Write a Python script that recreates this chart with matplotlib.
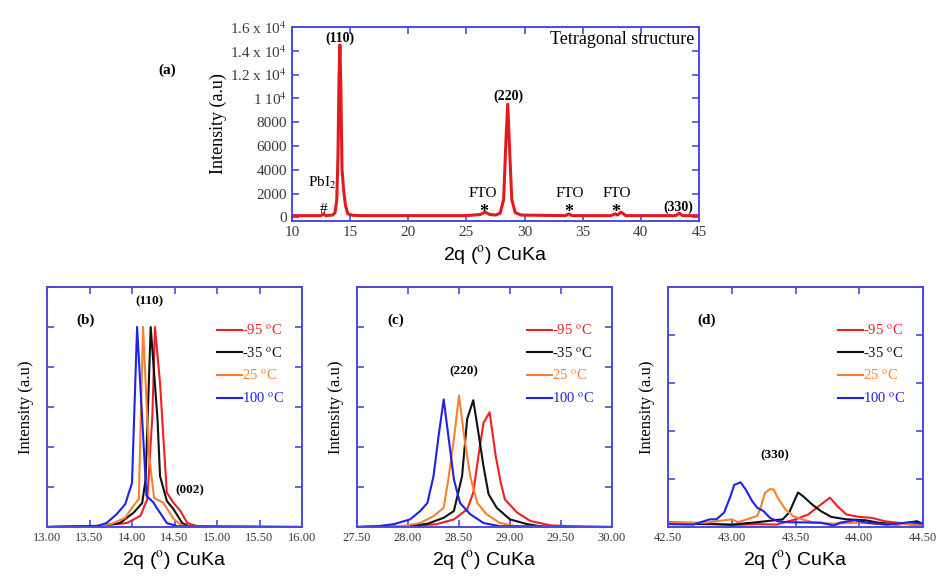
import numpy as np
import matplotlib
matplotlib.use("Agg")
import matplotlib.pyplot as plt

plt.rcParams['font.family'] = ['Liberation Serif', 'DejaVu Serif']
plt.rcParams['mathtext.fontset'] = 'stix'

# ---- panel (a): full pattern ----
a_x = [10, 12.5, 12.7, 12.9, 13.5, 13.7, 13.85, 13.95, 14.05, 14.12, 14.2, 14.3, 14.45, 14.6, 14.8, 15.2, 16,
       25, 26.2, 26.6, 27.0, 27.5, 27.9, 28.2, 28.4, 28.55, 28.7, 28.9, 29.2, 29.7,
       33.5, 33.8, 34.1, 37.4, 37.8, 38.0, 38.3, 38.7, 43.0, 43.3, 43.6, 45]
a_y = [150, 150, 300, 150, 200, 400, 1500, 5000, 12000, 14500, 11000, 4000, 2200, 1000, 300, 180, 150,
       150, 250, 450, 250, 200, 350, 1500, 6500, 9500, 6000, 1500, 400, 200,
       150, 300, 150, 150, 300, 200, 450, 150, 150, 350, 150, 150]
a_yticks = [0, 2000, 4000, 6000, 8000, 10000, 12000, 14000, 16000]
a_yticklabels = ['0', '2000', '4000', '6000', '8000', r'1 10$^4$', r'1.2 x 10$^4$',
                 r'1.4 x 10$^4$', r'1.6 x 10$^4$']

# ---- panel (b): (110) peak ----
b_red_x = [13.0, 13.6, 13.94, 14.10, 14.18, 14.24, 14.27, 14.33, 14.37, 14.41, 14.49, 14.57, 14.65, 14.8, 16.0]
b_red_y = [0.0, 0.02, 0.1, 0.28, 0.7, 2.8, 5.0, 3.6, 2.2, 0.86, 0.6, 0.4, 0.1, 0.0, 0.0]
b_blk_x = [13.0, 13.6, 13.86, 14.02, 14.12, 14.16, 14.22, 14.30, 14.33, 14.41, 14.49, 14.59, 14.69, 16.0]
b_blk_y = [0.0, 0.02, 0.1, 0.36, 0.6, 1.2, 5.0, 2.7, 1.27, 0.65, 0.44, 0.1, 0.0, 0.0]
b_org_x = [13.0, 13.55, 13.75, 13.92, 14.0, 14.08, 14.13, 14.20, 14.26, 14.37, 14.49, 14.59, 16.0]
b_org_y = [0.0, 0.02, 0.07, 0.23, 0.48, 0.7, 5.0, 1.8, 0.73, 0.6, 0.2, 0.03, 0.0]
b_blu_x = [13.0, 13.6, 13.7, 13.82, 13.92, 14.0, 14.06, 14.17, 14.25, 14.29, 14.41, 14.53, 16.0]
b_blu_y = [0.0, 0.03, 0.1, 0.32, 0.57, 1.1, 5.0, 0.78, 0.62, 0.48, 0.1, 0.02, 0.0]

# ---- panel (c): (220) peak ----
c_red_x = [27.5, 28.0, 28.28, 28.45, 28.58, 28.64, 28.69, 28.74, 28.80, 28.86, 28.91, 28.95, 29.07, 29.2, 29.4, 29.7, 30.0]
c_red_y = [0.0, 0.02, 0.07, 0.19, 0.44, 0.86, 1.77, 2.6, 2.87, 1.77, 1.1, 0.69, 0.36, 0.15, 0.04, 0.01, 0.0]
c_blk_x = [27.5, 28.0, 28.19, 28.35, 28.45, 28.53, 28.58, 28.64, 28.69, 28.74, 28.79, 28.87, 29.0, 29.17, 29.35, 30.0]
c_blk_y = [0.0, 0.02, 0.08, 0.23, 0.4, 1.27, 2.7, 3.17, 2.36, 1.52, 0.82, 0.48, 0.19, 0.07, 0.0, 0.0]
c_org_x = [27.5, 27.96, 28.12, 28.25, 28.35, 28.40, 28.45, 28.50, 28.55, 28.61, 28.68, 28.77, 28.9, 29.05, 30.0]
c_org_y = [0.0, 0.03, 0.1, 0.27, 0.48, 1.27, 2.2, 3.29, 2.28, 1.27, 0.6, 0.32, 0.1, 0.02, 0.0]
c_blu_x = [27.5, 27.7, 27.86, 28.02, 28.12, 28.19, 28.25, 28.30, 28.35, 28.40, 28.45, 28.51, 28.61, 28.74, 28.9, 30.0]
c_blu_y = [0.0, 0.02, 0.07, 0.19, 0.4, 0.6, 1.27, 2.28, 3.19, 2.19, 1.19, 0.6, 0.32, 0.1, 0.02, 0.0]

# ---- panel (d): (330) peak ----
d_red_x = [42.5, 42.8, 43.0, 43.2, 43.35, 43.5, 43.6, 43.7, 43.77, 43.83, 43.9, 44.0, 44.1, 44.2, 44.3, 44.4, 44.5]
d_red_y = [0.1, 0.08, 0.04, 0.06, 0.05, 0.16, 0.26, 0.47, 0.61, 0.43, 0.26, 0.21, 0.19, 0.12, 0.09, 0.05, 0.05]
d_blk_x = [42.5, 42.8, 43.0, 43.2, 43.4, 43.45, 43.52, 43.56, 43.63, 43.7, 43.78, 43.9, 44.05, 44.15, 44.3, 44.45, 44.5]
d_blk_y = [0.07, 0.06, 0.05, 0.1, 0.16, 0.3, 0.72, 0.64, 0.47, 0.33, 0.21, 0.16, 0.14, 0.09, 0.05, 0.12, 0.07]
d_org_x = [42.5, 42.8, 43.0, 43.05, 43.2, 43.23, 43.26, 43.3, 43.33, 43.36, 43.42, 43.48, 43.55, 43.65, 43.8, 44.0, 44.2, 44.5]
d_org_y = [0.08, 0.09, 0.16, 0.1, 0.23, 0.43, 0.71, 0.79, 0.78, 0.61, 0.37, 0.23, 0.16, 0.09, 0.07, 0.09, 0.05, 0.07]
d_blu_x = [42.5, 42.7, 42.78, 42.83, 42.88, 42.94, 42.99, 43.02, 43.07, 43.11, 43.16, 43.2, 43.25, 43.3, 43.36, 43.43,
           43.7, 43.8, 43.85, 43.96, 44.06, 44.22, 44.4, 44.5]
d_blu_y = [0.06, 0.05, 0.12, 0.16, 0.16, 0.3, 0.64, 0.88, 0.93, 0.78, 0.54, 0.4, 0.33, 0.19, 0.12, 0.1,
           0.09, 0.03, 0.09, 0.14, 0.09, 0.05, 0.1, 0.07]

labels = ['-95 $^{\\mathrm{o}}$C', '-35 $^{\\mathrm{o}}$C', '25 $^{\\mathrm{o}}$C', '100 $^{\\mathrm{o}}$C']
colors = ['#ee2024', '#111111', '#f7812f', '#2020e8']

frame = '#4a4ae0'
tickc = '#3a3a3a'
xlab = '2q ($^{\\mathrm{o}}$) CuKa'

fig = plt.figure(figsize=(9.41, 5.76), dpi=100)


def style(ax, fs):
    for s in ax.spines.values():
        s.set_color(frame)
        s.set_linewidth(1.4)
    ax.tick_params(direction='in', top=True, right=True, color=frame, width=1.2,
                   length=5, labelsize=fs, labelcolor=tickc)


# panel (a)
ax = fig.add_axes([292/941, 1-221/576, 407/941, 194/576])
ax.plot(a_x, a_y, color='#e31a1c', lw=2.2)
ax.set_xlim(10, 45)
ax.set_ylim(-300, 16000)
ax.set_xticks(range(10, 46, 5))
ax.set_yticks(a_yticks)
ax.set_yticklabels(a_yticklabels)
style(ax, 11)
ax.set_xlabel(xlab, family=['Liberation Sans'], fontsize=14, labelpad=4)
ax.set_ylabel('Intensity (a.u)', fontsize=13, labelpad=2)
ax.text(14.1, 14500, '(110)', ha='center', va='bottom', fontsize=10, weight='bold')
ax.text(28.6, 9600, '(220)', ha='center', va='bottom', fontsize=10, weight='bold')
ax.text(43.2, 250, '(330)', ha='center', va='bottom', fontsize=10, weight='bold')
ax.text(44.6, 15700, 'Tetragonal structure', ha='right', va='top', fontsize=13)
ax.text(12.6, 2200, 'PbI$_2$', ha='center', va='bottom', fontsize=11)
ax.text(12.7, 100, '#', ha='center', va='bottom', fontsize=11)
for fx, lx in [(26.5, 26.4), (33.8, 33.9), (37.8, 37.9)]:
    ax.text(lx, 1700, 'FTO', ha='center', va='baseline', fontsize=11)
    ax.text(fx, 0, '*', ha='center', va='baseline', fontsize=13, weight='bold')
fig.text(167/941, 1-70/576, '(a)', ha='center', va='center', fontsize=11, weight='bold')

panels = [
    (47, [b_red_x, b_blk_x, b_org_x, b_blu_x], [b_red_y, b_blk_y, b_org_y, b_blu_y],
     (13.0, 16.0), 6, '(b)', [('(110)', 0.40, 0.94), ('(002)', 0.56, 0.155)]),
    (357, [c_red_x, c_blk_x, c_org_x, c_blu_x], [c_red_y, c_blk_y, c_org_y, c_blu_y],
     (27.5, 30.0), 6, '(c)', [('(220)', 0.42, 0.65)]),
    (668, [d_red_x, d_blk_x, d_org_x, d_blu_x], [d_red_y, d_blk_y, d_org_y, d_blu_y],
     (42.5, 44.5), 5, '(d)', [('(330)', 0.42, 0.30)]),
]

for left, xs, ys, xl, ymax, tag, notes in panels:
    ax = fig.add_axes([left/941, 1-527/576, 255/941, 240/576])
    for x, y, c, lb in zip(xs, ys, colors, labels):
        ax.plot(x, y, color=c, lw=1.5, label=lb)
    ax.set_xlim(*xl)
    ax.set_ylim(0, ymax)
    ax.set_xticks(np.arange(xl[0], xl[1] + 0.01, 0.5))
    ax.set_xticklabels(['%.2f' % v for v in np.arange(xl[0], xl[1] + 0.01, 0.5)])
    ax.set_yticks(range(0, ymax + 1))
    ax.set_yticklabels([])
    style(ax, 9)
    ax.set_xlabel(xlab, family=['Liberation Sans'], fontsize=14, labelpad=4)
    ax.set_ylabel('Intensity (a.u)', fontsize=12, labelpad=6)
    ax.text(0.15, 0.86, tag, transform=ax.transAxes, ha='center', va='center',
            fontsize=11, weight='bold')
    for t, tx, ty in notes:
        ax.text(tx, ty, t, transform=ax.transAxes, ha='center', va='center',
                fontsize=9.5, weight='bold')
    leg = ax.legend(loc='upper left', bbox_to_anchor=(0.64, 0.88), frameon=False,
                    handlelength=1.7, handletextpad=0.0, labelspacing=0.55,
                    borderpad=0, fontsize=10.5, labelcolor='linecolor')

fig.savefig('out.png', dpi=100)
